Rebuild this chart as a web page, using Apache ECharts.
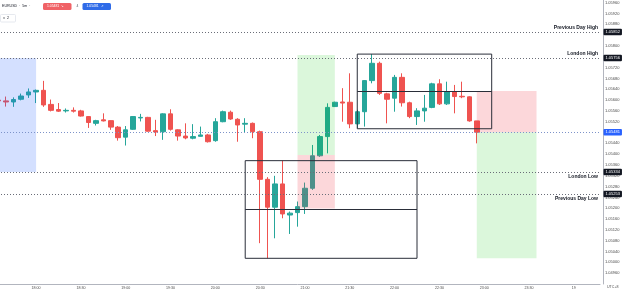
<!DOCTYPE html>
<html>
<head>
<meta charset="utf-8">
<script src="https://cdn.jsdelivr.net/npm/echarts@6/dist/echarts.min.js"></script>
<style>html,body{margin:0;padding:0;background:#fff;overflow:hidden;width:624px;height:290px;position:relative;}#chart{position:absolute;left:-5px;top:0;width:629px;height:290px;}</style>
</head>
<body>
<div id="chart"></div>
<script>
// ---- DATA ----
const times = ['17:35','17:40','17:45','17:50','17:55',
'18:00','18:05','18:10','18:15','18:20','18:25','18:30','18:35','18:40','18:45','18:50','18:55',
'19:00','19:05','19:10','19:15','19:20','19:25','19:30','19:35','19:40','19:45','19:50','19:55',
'20:00','20:05','20:10','20:15','20:20','20:25','20:30','20:35','20:40','20:45','20:50','20:55',
'21:00','21:05','21:10','21:15','21:20','21:25','21:30','21:35','21:40','21:45','21:50','21:55',
'22:00','22:05','22:10','22:15','22:20','22:25','22:30','22:35','22:40','22:45','22:50','22:55',
'23:00','23:05','23:10','23:15','23:20','23:25','23:30','23:35','23:40','23:45','23:50','23:55',
'00:00','00:05','00:10','00:15'];
const opens = [1.05600,1.05597,1.05593,1.05603,1.05619,1.05630,1.05636,1.05584,1.05565,1.05560,1.05562,1.05560,1.05539,1.05514,1.05527,1.05524,1.05500,
1.05463,1.05492,1.05534,1.05536,1.05487,1.05483,1.05549,1.05490,1.05467,1.05459,1.05466,1.05471,
1.05450,1.05520,1.05555,1.05529,1.05511,1.05514,1.05483,1.05307,1.05204,1.05290,1.05175,1.05184,
1.05206,1.05274,1.05394,1.05465,1.05576,1.05593,1.05592,1.05512,1.05557,1.05672,1.05736,1.05623,
1.05607,1.05684,1.05590,1.05539,1.05560,1.05573,1.05660,1.05586,1.05631,1.05614,1.05612,1.05523];
const highs = [1.05612,1.05613,1.05610,1.05624,1.05643,1.05639,1.05671,1.05602,1.05589,1.05569,1.05573,1.05564,1.05541,1.05527,1.05551,1.05525,1.05504,
1.05504,1.05541,1.05549,1.05538,1.05527,1.05551,1.05566,1.05492,1.05514,1.05511,1.05502,1.05475,
1.05533,1.05561,1.05561,1.05533,1.05533,1.05517,1.05487,1.05315,1.05320,1.05376,1.05188,1.05225,
1.05295,1.05434,1.05471,1.05588,1.05594,1.05644,1.05699,1.05564,1.05674,1.05770,1.05742,1.05627,
1.05693,1.05699,1.05594,1.05570,1.05619,1.05664,1.05677,1.05668,1.05656,1.05668,1.05614,1.05523];
const lows = [1.05586,1.05576,1.05575,1.05599,1.05608,1.05589,1.05575,1.05558,1.05556,1.05554,1.05554,1.05539,1.05497,1.05506,1.05521,1.05490,1.05450,
1.05432,1.05490,1.05521,1.05483,1.05467,1.05453,1.05487,1.05450,1.05455,1.05455,1.05465,1.05443,
1.05446,1.05518,1.05527,1.05446,1.05480,1.05459,1.05071,1.05015,1.05089,1.05163,1.05105,1.05132,
1.05179,1.05268,1.05390,1.05403,1.05575,1.05520,1.05496,1.05496,1.05502,1.05662,1.05619,1.05514,
1.05557,1.05576,1.05533,1.05508,1.05520,1.05570,1.05582,1.05582,1.05551,1.05607,1.05520,1.05440];
const closes = [1.05597,1.05593,1.05602,1.05615,1.05630,1.05636,1.05582,1.05562,1.05559,1.05562,1.05559,1.05541,1.05517,1.05524,1.05523,1.05500,1.05461,
1.05490,1.05539,1.05536,1.05485,1.05482,1.05549,1.05492,1.05467,1.05460,1.05465,1.05471,1.05446,
1.05520,1.05557,1.05530,1.05508,1.05514,1.05483,1.05307,1.05204,1.05290,1.05179,1.05182,1.05206,
1.05274,1.05394,1.05465,1.05573,1.05592,1.05589,1.05512,1.05557,1.05672,1.05736,1.05625,1.05603,
1.05684,1.05590,1.05539,1.05560,1.05570,1.05660,1.05586,1.05631,1.05613,1.05612,1.05523,1.05481];

const levelNames = ['Previous Day High','London High','London Low','Previous Day Low'];
const levelValues = [1.05852, 1.05756, 1.05334, 1.05253];
const lastPrice = 1.05481;

const sessionBox = {from:'17:35', to:'18:00', top:1.05756, bottom:1.05334};
const longTool  = {from:'20:55', to:'21:20', target:1.05767, entry:1.05397, stop:1.05199};
const shortTool = {from:'22:55', to:'23:35', stop:1.05634, entry:1.05481, target:1.05015};
const rangeBoxes = [
  {from:'20:20', to:'22:15', top:1.05376, bottom:1.05015},
  {from:'21:35', to:'23:05', top:1.05770, bottom:1.05494}
];

// ---- CHART ----
const candleData = opens.map((o, i) => [o, closes[i], lows[i], highs[i]]);
const tagPrices = levelValues.concat([lastPrice]);
const FONT = 'Liberation Sans, Arial, sans-serif';
const SX = 5; // chart div is shifted 5px to the left of the page

const green = 'rgba(0,200,0,0.14)';
const pink = 'rgba(242,54,69,0.2)';
const boxStyle = {color:'rgba(0,0,0,0)', borderColor:'#2a2e39', borderWidth:1};

const areas = [
  [{xAxis:sessionBox.from, yAxis:sessionBox.top, itemStyle:{color:'rgba(41,98,255,0.2)'}}, {xAxis:sessionBox.to, yAxis:sessionBox.bottom}],
  [{xAxis:longTool.from, yAxis:longTool.target, itemStyle:{color:green}}, {xAxis:longTool.to, yAxis:longTool.entry}],
  [{xAxis:longTool.from, yAxis:longTool.entry, itemStyle:{color:pink}}, {xAxis:longTool.to, yAxis:longTool.stop}],
  [{xAxis:shortTool.from, yAxis:shortTool.stop, itemStyle:{color:pink}}, {xAxis:shortTool.to, yAxis:shortTool.entry}],
  [{xAxis:shortTool.from, yAxis:shortTool.entry, itemStyle:{color:green}}, {xAxis:shortTool.to, yAxis:shortTool.target}]
];
rangeBoxes.forEach(b => areas.push([{xAxis:b.from, yAxis:b.top, itemStyle:boxStyle}, {xAxis:b.to, yAxis:b.bottom}]));

const tagLabel = (bg, v) => ({
  show:true, position:'end', distance:3.5,
  formatter: v.toFixed(5),
  backgroundColor:bg, color:'#fff', fontSize:4, fontFamily:FONT,
  padding:[1.5,2,1,2], borderRadius:1
});

const lines = [];
levelValues.forEach((v, i) => {
  lines.push({yAxis:v, lineStyle:{type:[1,2], color:'#6a6d78', width:1}, label:tagLabel('#131722', v)});
  lines.push({yAxis:v, lineStyle:{color:'rgba(255,255,255,0)', width:0.1}, label:{
    show:true, position: i < 2 ? 'insideEndTop' : 'insideEndBottom', distance:2,
    formatter: levelNames[i], color:'#131722', fontSize:5, fontWeight:'bold', fontFamily:FONT
  }});
});
lines.push({yAxis:lastPrice, lineStyle:{type:[1,2], color:'#7d93c9', width:1}, label:tagLabel('#2962ff', lastPrice)});

const midLines = rangeBoxes.map(b => {
  const mid = (b.top + b.bottom) / 2;
  return [{coord:[b.from, mid]}, {coord:[b.to, mid]}];
});

const chart = echarts.init(document.getElementById('chart'), null, {renderer:'canvas'});
chart.setOption({
  animation:false,
  backgroundColor:'#ffffff',
  textStyle:{fontFamily:FONT},
  grid:{left:0, top:0, width:605, height:284},
  xAxis:{
    type:'category', data:times, boundaryGap:true,
    axisLine:{show:true, onZero:false, lineStyle:{color:'#b2b5be', width:1}},
    axisTick:{show:false}, splitLine:{show:false},
    axisLabel:{
      interval:(i, v) => v.endsWith(':00') || v.endsWith(':30'),
      formatter:v => v === '00:00' ? '19' : v,
      fontSize:3.6, color:'#4a4a4a', margin:1.8, fontFamily:FONT
    }
  },
  yAxis:{
    type:'value', position:'right', offset:3,
    min:1.04920, max:1.05970, interval:0.0004,
    axisLine:{show:true, lineStyle:{color:'#b2b5be', width:1}},
    axisTick:{show:false}, splitLine:{show:false},
    axisLabel:{
      fontSize:4, color:'#4a4a4a', margin:2, fontFamily:FONT,
      showMinLabel:false, showMaxLabel:false,
      formatter:v => {
        const n = Math.round(v * 1e5);
        if (n % 40 !== 0) return '';
        for (const t of tagPrices) if (Math.abs(n - Math.round(t * 1e5)) <= 12) return '';
        return (n / 1e5).toFixed(5);
      }
    }
  },
  series:[{
    type:'candlestick', data:candleData, barWidth:5,
    itemStyle:{color:'#26a69a', color0:'#ef5350', borderColor:'#26a69a', borderColor0:'#ef5350', borderWidth:1},
    markArea:{z:3, silent:true, data:areas},
    markLine:{z:5, silent:true, precision:6, symbol:['none','none'], label:{show:false},
      lineStyle:{type:'solid', color:'#2a2e39', width:1}, data:midLines}
  },{
    type:'line', data:[], z:6, silent:true,
    markLine:{z:6, silent:true, precision:6, symbol:['none','none'], data:lines}
  }],
  graphic:[
    {type:'text', left:2+SX, top:3.5, z:10, style:{text:'EURUSD  ·  5m  ·', fontSize:3.6, fill:'#131722', fontFamily:FONT}},
    {type:'rect', z:10, shape:{x:43+SX, y:3, width:28.5, height:7, r:1.5}, style:{fill:'#f06266'}},
    {type:'text', z:11, left:47+SX, top:4.5, style:{text:'1.05481  ↘', fontSize:3.4, fill:'#ffffff', fontFamily:FONT}},
    {type:'text', z:10, left:76.5+SX, top:4.5, style:{text:'4', fontSize:3.4, fill:'#50535e', fontFamily:FONT}},
    {type:'rect', z:10, shape:{x:82.5+SX, y:3, width:28.5, height:7, r:1.5}, style:{fill:'#2f6be8'}},
    {type:'text', z:11, left:86.5+SX, top:4.5, style:{text:'1.05481  ↗', fontSize:3.4, fill:'#ffffff', fontFamily:FONT}},
    {type:'rect', z:10, shape:{x:0.5+SX, y:14.5, width:15, height:7.5, r:1}, style:{fill:'#ffffff', stroke:'#e0e3eb', lineWidth:0.8}},
    {type:'text', z:11, left:3+SX, top:16, style:{text:'˅  2', fontSize:3.6, fill:'#131722', fontFamily:FONT}},
    {type:'text', z:10, left:607+SX, top:285.3, style:{text:'UTC+8', fontSize:3.6, fill:'#4a4a4a', fontFamily:FONT}}
  ]
});
</script>
</body>
</html>
